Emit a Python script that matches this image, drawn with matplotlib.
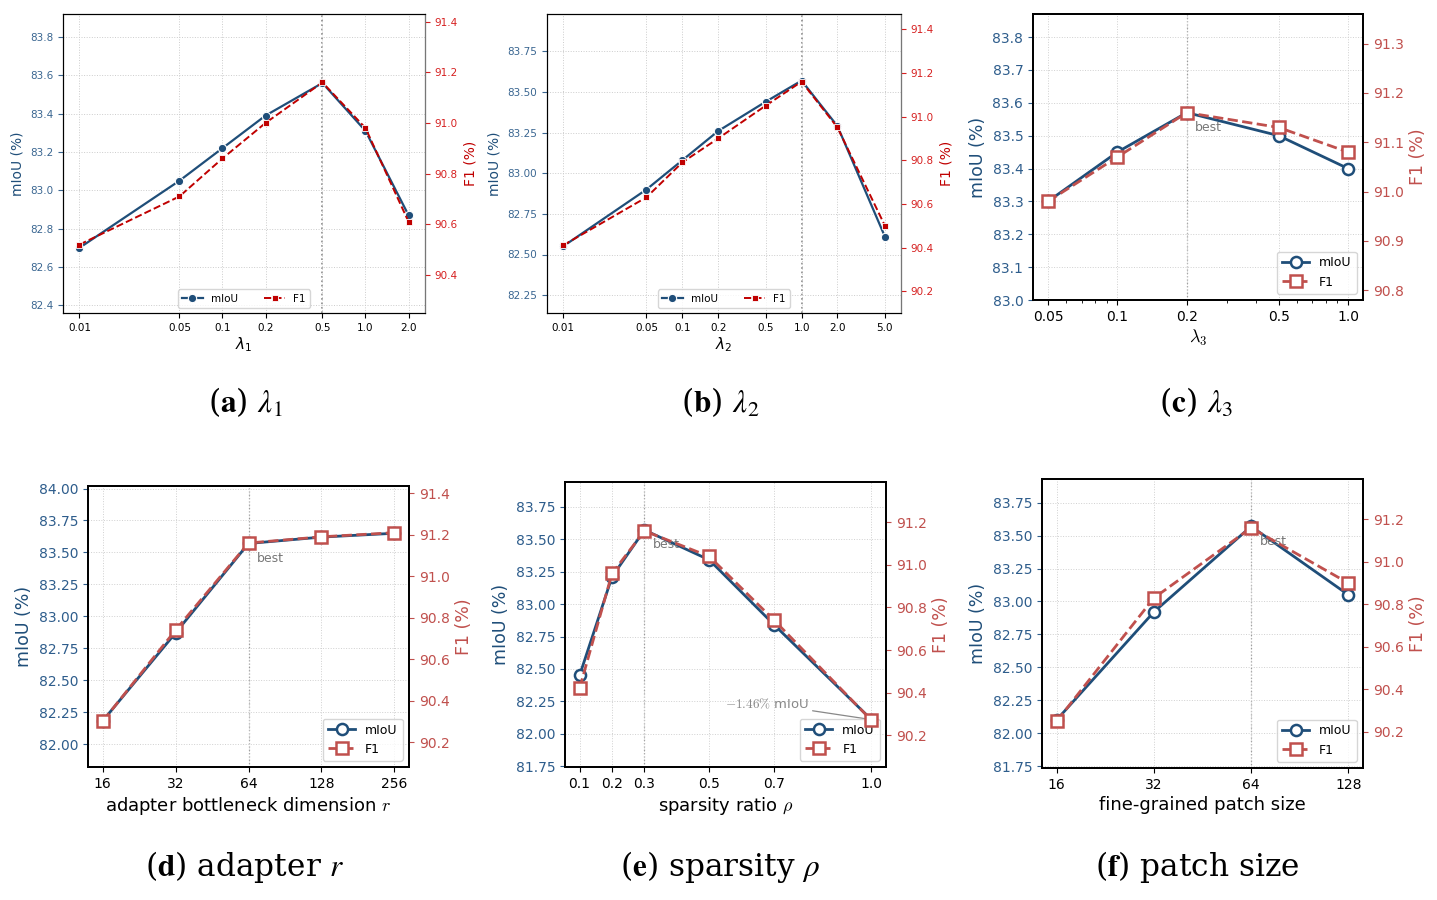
import numpy as np
import matplotlib
matplotlib.use("Agg")
import matplotlib.pyplot as plt
from matplotlib.ticker import FixedLocator, NullLocator, FormatStrFormatter, LogLocator

# ---------------- data ----------------
a_x = [0.01, 0.05, 0.1, 0.2, 0.5, 1.0, 2.0]
a_xlabels = ["0.01", "0.05", "0.1", "0.2", "0.5", "1.0", "2.0"]
a_miou = [82.70, 83.05, 83.22, 83.39, 83.56, 83.31, 82.87]
a_f1 = [90.52, 90.71, 90.86, 91.00, 91.16, 90.98, 90.61]

b_x = [0.01, 0.05, 0.1, 0.2, 0.5, 1.0, 2.0, 5.0]
b_xlabels = ["0.01", "0.05", "0.1", "0.2", "0.5", "1.0", "2.0", "5.0"]
b_miou = [82.55, 82.90, 83.08, 83.26, 83.44, 83.57, 83.29, 82.61]
b_f1 = [90.41, 90.63, 90.79, 90.90, 91.05, 91.16, 90.95, 90.50]

c_x = [0.05, 0.1, 0.2, 0.5, 1.0]
c_xlabels = ["0.05", "0.1", "0.2", "0.5", "1.0"]
c_miou = [83.30, 83.45, 83.57, 83.50, 83.40]
c_f1 = [90.98, 91.07, 91.16, 91.13, 91.08]

d_xlabels = ["16", "32", "64", "128", "256"]
d_miou = [82.18, 82.87, 83.57, 83.62, 83.65]
d_f1 = [90.30, 90.74, 91.16, 91.19, 91.21]

e_x = [0.1, 0.2, 0.3, 0.5, 0.7, 1.0]
e_xlabels = ["0.1", "0.2", "0.3", "0.5", "0.7", "1.0"]
e_miou = [82.45, 83.21, 83.57, 83.34, 82.84, 82.11]
e_f1 = [90.42, 90.96, 91.16, 91.04, 90.74, 90.27]

f_xlabels = ["16", "32", "64", "128"]
f_miou = [82.10, 82.92, 83.57, 83.05]
f_f1 = [90.25, 90.83, 91.16, 90.90]

captions = [r"($\mathbf{a}$) $\lambda_1$", r"($\mathbf{b}$) $\lambda_2$", r"($\mathbf{c}$) $\lambda_3$",
            r"($\mathbf{d}$) adapter $r$", r"($\mathbf{e}$) sparsity $\rho$", r"($\mathbf{f}$) patch size"]

# ---------------- style ----------------
BLUE = "#1f4e79"
RED_A = "#c00000"
RED_B = "#c0504d"
W, H = 1437, 900

fig = plt.figure(figsize=(W / 100, H / 100), dpi=100)


def px_axes(l, t, r, b):
    return fig.add_axes([l / W, (H - b) / H, (r - l) / W, (b - t) / H])


# ---------- top row (a), (b): small fonts, filled markers ----------
def panel_small(box, x, xl, miou, f1, best, ylim1, yt1, fmt1, ylim2, yt2, xlabel):
    ax = px_axes(*box)
    ax.set_xscale("log")
    ax.plot(x, miou, "-o", color=BLUE, lw=1.6, ms=6, mec="white", mew=0.8, label="mIoU", zorder=3)
    ax.axvline(best, color="#888888", ls=":", lw=1.2, zorder=1)
    ax.set_xticks(x)
    ax.set_xticklabels(xl)
    ax.xaxis.set_minor_locator(NullLocator())
    ax.set_ylim(*ylim1)
    ax.yaxis.set_major_locator(FixedLocator(yt1))
    ax.yaxis.set_major_formatter(FormatStrFormatter(fmt1))
    ax.tick_params(axis="y", colors="#3a6691", labelsize=7.5)
    ax.tick_params(axis="x", labelsize=7.5)
    ax.set_ylabel("mIoU (%)", color=BLUE, fontsize=10)
    ax.set_xlabel(xlabel, fontsize=11, labelpad=2)
    ax.grid(True, ls=":", color="#cccccc", lw=0.7)
    ax2 = ax.twinx()
    ax2.plot(x, f1, "--s", color=RED_A, lw=1.4, ms=5, mec="white", mew=0.6, label="F1", zorder=3)
    ax2.set_ylim(*ylim2)
    ax2.yaxis.set_major_locator(FixedLocator(yt2))
    ax2.yaxis.set_major_formatter(FormatStrFormatter("%.1f"))
    ax2.tick_params(axis="y", colors="#d62020", labelsize=7.5)
    ax2.set_ylabel("F1 (%)", color=RED_A, fontsize=10)
    ax2.spines["right"].set_color("#777777")
    h1, l1 = ax.get_legend_handles_labels()
    h2, l2 = ax2.get_legend_handles_labels()
    ax2.legend(h1 + h2, l1 + l2, loc="lower center", ncol=2, fontsize=7.5,
               bbox_to_anchor=(0.5, 0.0), columnspacing=2.5, handlelength=2.0)
    return ax, ax2


panel_small((63, 14, 425, 313), a_x, a_xlabels, a_miou, a_f1, 0.5,
            (82.36, 83.92), [82.4, 82.6, 82.8, 83.0, 83.2, 83.4, 83.6, 83.8], "%.1f",
            (90.25, 91.43), [90.4, 90.6, 90.8, 91.0, 91.2, 91.4], r"$\lambda_1$")
panel_small((547, 14, 901, 313), b_x, b_xlabels, b_miou, b_f1, 1.0,
            (82.14, 83.98), [82.25, 82.5, 82.75, 83.0, 83.25, 83.5, 83.75], "%.2f",
            (90.10, 91.47), [90.2, 90.4, 90.6, 90.8, 91.0, 91.2, 91.4], r"$\lambda_2$")


# ---------- (c)-(f): larger fonts, open markers ----------
def panel_big(box, x, xl, miou, f1, best_i, ylim1, yt1, fmt1, ylim2, yt2, xlabel,
              logx=False, cats=False):
    ax = px_axes(*box)
    xs = list(range(len(xl))) if cats else x
    if logx:
        ax.set_xscale("log")
    ax.plot(xs, miou, "-o", color=BLUE, lw=2.0, ms=8, mfc="white", mec=BLUE, mew=1.8,
            label="mIoU", zorder=3)
    ax.axvline(xs[best_i], color="#999999", ls=":", lw=0.9, zorder=1)
    ax.set_xticks(xs)
    ax.set_xticklabels(xl)
    if logx:
        ax.xaxis.set_minor_locator(LogLocator(base=10, subs=np.arange(2, 10)))
        ax.xaxis.set_minor_formatter(plt.NullFormatter())
    ax.set_ylim(*ylim1)
    ax.yaxis.set_major_locator(FixedLocator(yt1))
    ax.yaxis.set_major_formatter(FormatStrFormatter(fmt1))
    ax.tick_params(axis="y", colors="#2e5d8c", labelsize=10)
    ax.tick_params(axis="x", labelsize=10)
    ax.set_ylabel("mIoU (%)", color=BLUE, fontsize=12.5)
    ax.set_xlabel(xlabel, fontsize=13, labelpad=3, math_fontfamily="cm")
    ax.grid(True, ls=":", color="#d0d0d0", lw=0.7)
    for s in ax.spines.values():
        s.set_linewidth(1.3)
    ax.annotate("best", xy=(xs[best_i], miou[best_i]), xytext=(6, -6),
                textcoords="offset points", ha="left", va="top", fontsize=9, color="#777777")
    ax2 = ax.twinx()
    ax2.plot(xs, f1, "--s", color=RED_B, lw=2.0, ms=8, mfc="white", mec=RED_B, mew=1.8,
             label="F1", zorder=3)
    ax2.set_ylim(*ylim2)
    ax2.yaxis.set_major_locator(FixedLocator(yt2))
    ax2.yaxis.set_major_formatter(FormatStrFormatter("%.1f"))
    ax2.tick_params(axis="y", colors=RED_B, labelsize=10)
    ax2.set_ylabel("F1 (%)", color=RED_B, fontsize=12.5)
    for s in ax2.spines.values():
        s.set_linewidth(1.3)
    h1, l1 = ax.get_legend_handles_labels()
    h2, l2 = ax2.get_legend_handles_labels()
    leg = ax.legend(h1 + h2, l1 + l2, loc="lower right", fontsize=9, handlelength=2.2)
    leg.set_zorder(5)
    return ax, ax2


panel_big((1033, 14, 1363, 300), c_x, c_xlabels, c_miou, c_f1, 2,
          (83.0, 83.87), [83.0, 83.1, 83.2, 83.3, 83.4, 83.5, 83.6, 83.7, 83.8], "%.1f",
          (90.78, 91.36), [90.8, 90.9, 91.0, 91.1, 91.2, 91.3], r"$\lambda_3$", logx=True)

panel_big((88, 486, 409, 767), None, d_xlabels, d_miou, d_f1, 2,
          (81.82, 84.02), [82.0, 82.25, 82.5, 82.75, 83.0, 83.25, 83.5, 83.75, 84.0], "%.2f",
          (90.08, 91.435), [90.2, 90.4, 90.6, 90.8, 91.0, 91.2, 91.4],
          r"adapter bottleneck dimension $r$", cats=True)

axe, axe2 = panel_big((565, 482, 886, 767), e_x, e_xlabels, e_miou, e_f1, 2,
                      (81.745, 83.94), [81.75, 82.0, 82.25, 82.5, 82.75, 83.0, 83.25, 83.5, 83.75], "%.2f",
                      (90.05, 91.39), [90.2, 90.4, 90.6, 90.8, 91.0, 91.2],
                      r"sparsity ratio $\rho$")
axe.annotate(r"$-1.46\%$ mIoU", xy=(e_x[-1], e_miou[-1]), xytext=(0.68, 82.23),
             textcoords="data", ha="center", va="center", fontsize=9.5, color="#888888",
             math_fontfamily="cm",
             arrowprops=dict(arrowstyle="-", color="#888888", lw=0.9, shrinkA=0, shrinkB=2))

panel_big((1042, 479, 1363, 768), None, f_xlabels, f_miou, f_f1, 2,
          (81.735, 83.93), [81.75, 82.0, 82.25, 82.5, 82.75, 83.0, 83.25, 83.5, 83.75], "%.2f",
          (90.03, 91.39), [90.2, 90.4, 90.6, 90.8, 91.0, 91.2],
          "fine-grained patch size", cats=True)

# ---------- captions ----------
cap_pos = [(245, 402), (720, 402), (1196, 402), (245, 867), (720, 867), (1197, 867)]
for (cx, cy), txt in zip(cap_pos, captions):
    fig.text(cx / W, 1 - cy / H, txt, ha="center", va="center", fontsize=22.5,
             family="DejaVu Serif", math_fontfamily="stix")

fig.savefig("out.png", dpi=100)
